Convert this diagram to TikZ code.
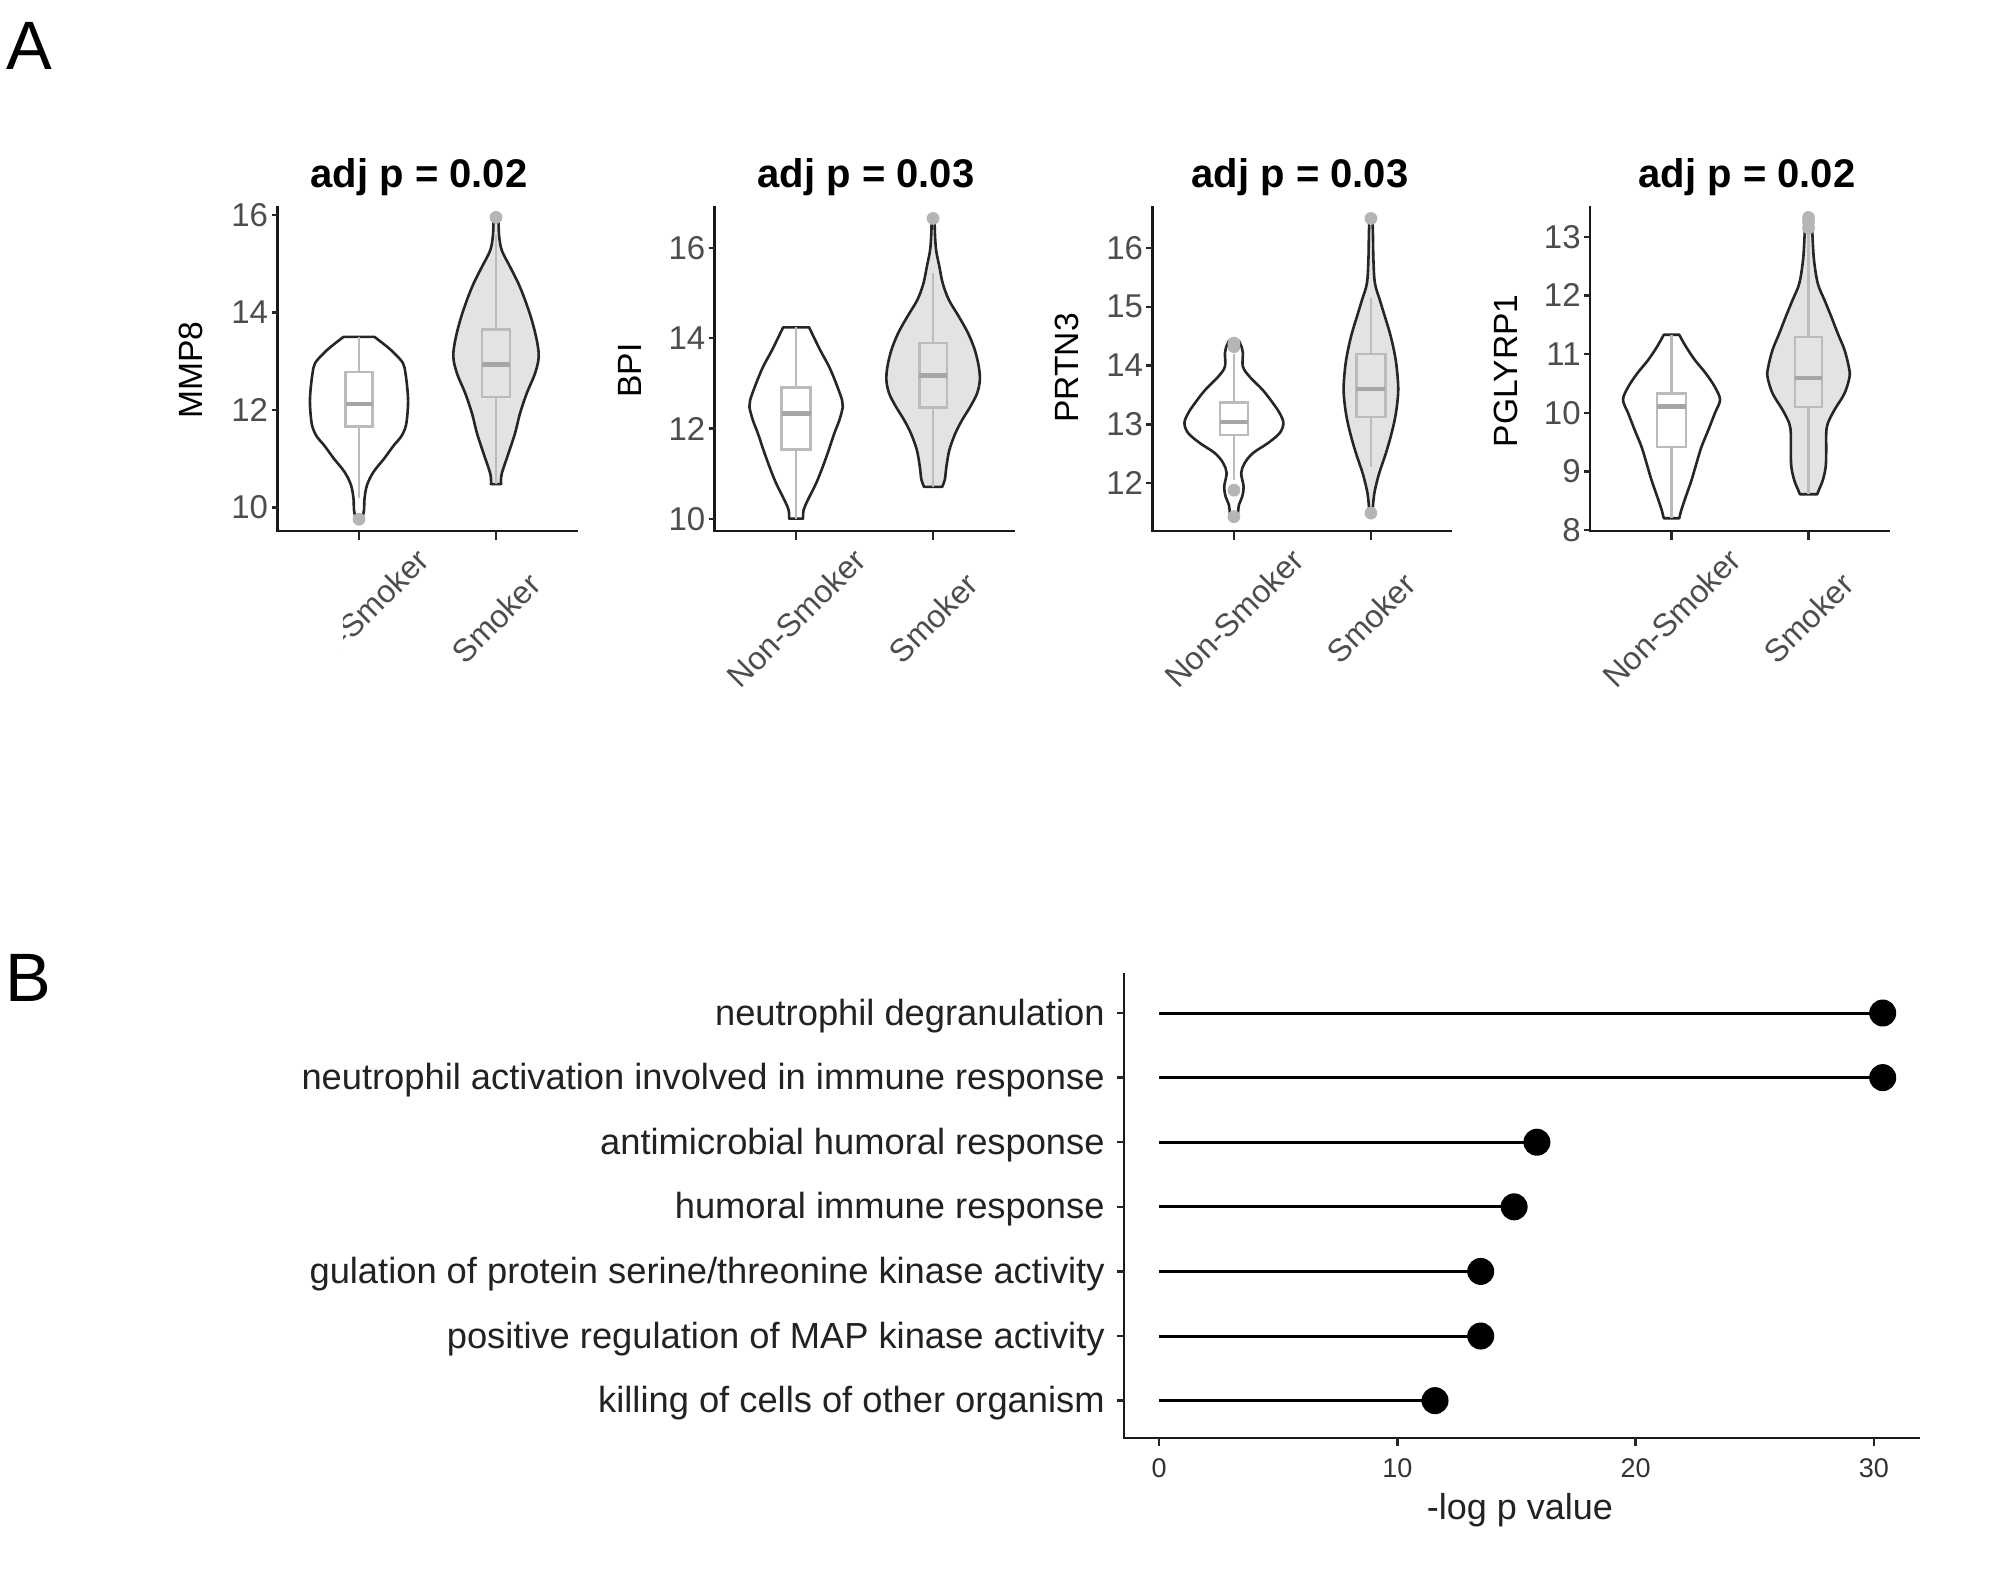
\documentclass[tikz,border=0pt]{standalone}
\usepackage{fontspec}
\setmainfont{Liberation Sans}
\newcommand\fs[1]{\fontsize{#1}{#1}\selectfont}
\definecolor{vline}{HTML}{262626}
\definecolor{vfill}{HTML}{E3E3E3}
\definecolor{boxc}{HTML}{BBBBBB}
\definecolor{medc}{HTML}{A6A6A6}
\definecolor{outc}{HTML}{B5B5B5}
\definecolor{tickc}{HTML}{4D4D4D}
\definecolor{btxt}{HTML}{222222}
\definecolor{btick}{HTML}{333333}
\tikzset{
  ax/.style={line width=1.4pt, draw=black!90},
  tk/.style={line width=1.2pt, draw=black!85},
  vio/.style={draw=vline, line width=1.3pt, line join=round, fill=white},
  viog/.style={draw=vline, line width=1.3pt, line join=round, fill=vfill},
  bxs/.style={draw=boxc, line width=1.15pt},
  meds/.style={draw=medc, line width=2.3pt},
  outdot/.style={fill=outc},
  ytl/.style={anchor=east, inner sep=0, font=\fs{16.5pt}, text=tickc},
  xtl/.style={rotate=45, inner sep=0, font=\fs{16pt}, text=tickc},
  ttl/.style={anchor=base, inner sep=0, font=\bfseries\fs{20pt}},
  ylab/.style={rotate=90, inner sep=0, font=\fs{16.8pt}},
  blab/.style={anchor=base east, inner sep=0, font=\fs{18.15pt}, text=btxt},
  btl/.style={anchor=north, inner sep=0, font=\fs{13.5pt}, text=btick},
  lol/.style={line width=1.5pt, draw=black},
  dot/.style={circle, fill=black, minimum size=13.5pt, inner sep=0},
  panel/.style={anchor=base west, inner sep=0, font=\fs{34.25pt}}
}
\newcommand\mkviolin[2]{%
  \gdef\vR{}\gdef\vL{}%
  \foreach \vv/\hh in {#2}{\xdef\vR{\vR (\hh,\vv)}\xdef\vL{(-\hh,\vv) \vL}}%
  \edef\vtmp{\noexpand\draw[#1] plot[smooth,tension=0.55] coordinates {\vR} -- plot[smooth,tension=0.55] coordinates {\vL} -- cycle;}%
  \vtmp}
\newcommand\bxp[6]{%
  \draw[bxs] (-#6,#1) rectangle (#6,#3);
  \draw[bxs] (0,#3) -- (0,#5) (0,#1) -- (0,#4);
  \draw[meds] (-#6,#2) -- (#6,#2);}
\newcommand\outl[1]{\fill[outdot] (0,#1) circle[radius=3.2pt];}
\begin{document}
\begin{tikzpicture}[x=0.5pt, y=-0.5pt]
\fill[white] (0,0) rectangle (2000,1575);
\useasboundingbox (0,0) rectangle (2000,1575);

\node[panel] (labA) at (6,69.5) {A};
\node[panel] (labB) at (5,1001) {B};

% ---------- titles ----------
\node[ttl] (t1) at (419,187.5) {adj p = 0.02};
\node[ttl] (t2) at (866,187.5) {adj p = 0.03};
\node[ttl] (t3) at (1300,187.5) {adj p = 0.03};
\node[ttl] (t4) at (1747,187.5) {adj p = 0.02};

% ---------- y labels ----------
\node[ylab] (yl1) at (190.7,370) {MMP8};
\node[ylab] (yl2) at (630,370.6) {BPI};
\node[ylab] (yl3) at (1067,368) {PRTN3};
\node[ylab] (yl4) at (1505.5,370.8) {PGLYRP1};

% ---------- axes of panel A ----------
\foreach \xo in {277.5,714.6,1152.4,1590}{
  \draw[ax] (\xo,206) -- (\xo,531) -- (\xo+300,531);
  \draw[tk] (\xo+81.5,531) -- (\xo+81.5,540);
  \draw[tk] (\xo+218.5,531) -- (\xo+218.5,540);
}

% ---------- x tick labels ----------
\begin{scope}
\clip (343,520) rectangle (700,720);
\node[xtl] (x1n) at (359,618) {Non-Smoker};
\end{scope}
\node[xtl] (x1s) at (496,618) {Smoker};
\node[xtl] (x2n) at (796.1,618) {Non-Smoker};
\node[xtl] (x2s) at (933.1,618) {Smoker};
\node[xtl] (x3n) at (1234,618) {Non-Smoker};
\node[xtl] (x3s) at (1371,618) {Smoker};
\node[xtl] (x4n) at (1671.5,618) {Non-Smoker};
\node[xtl] (x4s) at (1808.5,618) {Smoker};

% ---------- plot 1: MMP8 ----------
\begin{scope}[shift={(277.5,995)}, y={(0pt,24.375pt)}]
  \foreach \v in {10,12,14,16}{\draw[tk] (-6,\v) -- (0,\v); \node[ytl] (p1y\v) at (-9,\v) {\v};}
  \begin{scope}[shift={(81.5,0)}]
    \mkviolin{vio}{13.5/15.5, 13.3/28, 13.15/36, 12.96/44, 12.75/46.5, 12.4/48.5, 12.1/49, 11.69/47, 11.45/42, 11.28/35, 11.0/25, 10.73/14.5, 10.46/8, 10.18/5.5, 9.95/5, 9.74/3}
    \bxp{11.66}{12.12}{12.78}{10.2}{13.5}{13.5}
    \outl{9.76}
  \end{scope}
  \begin{scope}[shift={(218.5,0)}]
    \mkviolin{viog}{15.92/2.5, 15.6/3, 15.28/5.7, 14.94/14, 14.6/22.3, 14.26/29, 13.85/35.7, 13.44/40.7, 13.09/42.7, 12.75/39, 12.34/30.7, 11.93/24, 11.52/19, 11.1/12.3, 10.69/5.7, 10.48/5}
    \bxp{12.26}{12.93}{13.65}{10.48}{15.6}{14}
    \outl{15.95}
  \end{scope}
\end{scope}

% ---------- plot 2: BPI ----------
\begin{scope}[shift={(714.6,971)}, y={(0pt,22.6pt)}]
  \foreach \v in {10,12,14,16}{\draw[tk] (-6,\v) -- (0,\v); \node[ytl] (p2y\v) at (-9,\v) {\v};}
  \begin{scope}[shift={(81.5,0)}]
    \mkviolin{vio}{14.24/13, 13.74/24, 13.37/33, 13.0/40, 12.63/46, 12.48/46.7, 12.19/43.3, 11.9/38.3, 11.53/32.7, 11.16/26.7, 10.79/20, 10.42/11.7, 10.2/7.5, 10.01/7}
    \bxp{11.54}{12.33}{12.91}{10.01}{14.24}{14.5}
  \end{scope}
  \begin{scope}[shift={(218.5,0)}]
    \mkviolin{viog}{16.6/1.5, 16.32/1.8, 15.95/3, 15.58/6.3, 15.21/9.7, 14.85/15.7, 14.48/25.7, 14.11/35, 13.74/41.7, 13.37/45.7, 13.07/46.7, 12.78/44, 12.49/37.3, 12.19/29, 11.9/22.3, 11.53/16.3, 11.16/13.3, 10.87/11.7, 10.71/9}
    \bxp{12.47}{13.18}{13.9}{10.71}{15.44}{13.7}
    \outl{16.65}
  \end{scope}
\end{scope}

% ---------- plot 3: PRTN3 ----------
\begin{scope}[shift={(1152.4,1188.7)}, y={(0pt,29.4pt)}]
  \foreach \v in {12,13,14,15,16}{\draw[tk] (-6,\v) -- (0,\v); \node[ytl] (p3y\v) at (-9,\v) {\v};}
  \begin{scope}[shift={(81.5,0)}]
    \mkviolin{vio}{14.42/5, 14.3/8, 14.21/9, 13.98/9, 13.81/15.7, 13.58/29, 13.36/39, 13.19/45.7, 13.02/49.5, 12.85/45.7, 12.68/34, 12.51/19, 12.34/10.7, 12.17/7.3, 11.94/9.7, 11.77/8.3, 11.63/5, 11.49/4, 11.43/2.5}
    \bxp{12.82}{13.04}{13.37}{12.05}{14.2}{14}
    \outl{14.38}\outl{14.32}\outl{11.88}\outl{11.43}
  \end{scope}
  \begin{scope}[shift={(218.5,0)}]
    \mkviolin{viog}{16.48/1.5, 16.25/2, 15.8/2.5, 15.4/4, 15.11/9, 14.83/14, 14.55/19, 14.26/23, 13.98/25.7, 13.58/27.3, 13.19/25, 12.85/20.7, 12.51/15, 12.17/8.3, 11.88/4, 11.7/2.5, 11.5/1.5}
    \bxp{13.12}{13.6}{14.2}{12.28}{15.14}{14.5}
    \outl{16.5}\outl{11.49}
  \end{scope}
\end{scope}

% ---------- plot 4: PGLYRP1 ----------
\begin{scope}[shift={(1590,999.1)}, y={(0pt,29.32pt)}]
  \foreach \v in {8,9,10,11,12,13}{\draw[tk] (-6,\v) -- (0,\v); \node[ytl] (p4y\v) at (-9,\v) {\v};}
  \begin{scope}[shift={(81.5,0)}]
    \mkviolin{vio}{11.33/7.7, 11.13/14.3, 10.9/23.3, 10.67/34.3, 10.44/43.3, 10.22/48.5, 9.99/43.3, 9.7/36.7, 9.42/30, 9.14/25, 8.85/20, 8.57/14.3, 8.35/10, 8.2/7.7}
    \bxp{9.41}{10.11}{10.33}{8.2}{11.33}{14.7}
  \end{scope}
  \begin{scope}[shift={(218.5,0)}]
    \mkviolin{viog}{13.35/3, 13.0/4, 12.6/5.5, 12.2/9.3, 11.92/16, 11.64/22.7, 11.35/29.3, 11.07/36, 10.78/40.3, 10.61/41, 10.33/36, 10.05/26, 9.82/19.3, 9.65/17.7, 9.37/17.7, 9.08/17.2, 8.85/14.3, 8.68/10.3, 8.61/8.7}
    \bxp{10.1}{10.59}{11.29}{8.61}{13.2}{13.3}
    \outl{13.33}\outl{13.25}\outl{13.15}
  \end{scope}
\end{scope}

% ---------- panel B ----------
\draw[ax] (1124,973) -- (1124,1438) -- (1920,1438);
\foreach \v/\lab in {0/0,10/10,20/20,30/30}{
  \draw[tk] (1159+23.83*\v,1438) -- (1159+23.83*\v,1446);
  \node[btl] (bx\v) at (1159+23.83*\v,1458) {\lab};
}
\node[anchor=base, inner sep=0, font=\fs{18pt}, text=btxt] (bxlab) at (1520,1519) {-log p value};

\foreach \r in {1013,1077.6,1142.2,1206.8,1271.4,1336,1400.6}{\draw[tk] (1117,\r) -- (1124,\r);}

\node[blab] (b1) at (1105,1025) {neutrophil degranulation};
\node[blab] (b2) at (1105,1089.6) {neutrophil activation involved in immune response};
\node[blab] (b3) at (1105,1154.2) {antimicrobial humoral response};
\node[blab] (b4) at (1105,1218.8) {humoral immune response};
\node[blab] (b5) at (1105,1283.4) {gulation of protein serine/threonine kinase activity};
\node[blab] (b6) at (1105,1348) {positive regulation of MAP kinase activity};
\node[blab] (b7) at (1105,1412.6) {killing of cells of other organism};

\coordinate (s1) at (1159,1013);
\coordinate (s2) at (1159,1077.6);
\coordinate (s3) at (1159,1142.2);
\coordinate (s4) at (1159,1206.8);
\coordinate (s5) at (1159,1271.4);
\coordinate (s6) at (1159,1336);
\coordinate (s7) at (1159,1400.6);
\coordinate (e1) at (1882.7,1013);
\coordinate (e2) at (1882.7,1077.6);
\coordinate (e3) at (1536.9,1142.2);
\coordinate (e4) at (1514.1,1206.8);
\coordinate (e5) at (1480.7,1271.4);
\coordinate (e6) at (1480.7,1336);
\coordinate (e7) at (1435.0,1400.6);
\foreach \i in {1,...,7}{
  \draw[lol] (s\i) -- (e\i);
  \node[dot] (d\i) at (e\i) {};
}
\end{tikzpicture}
\end{document}
